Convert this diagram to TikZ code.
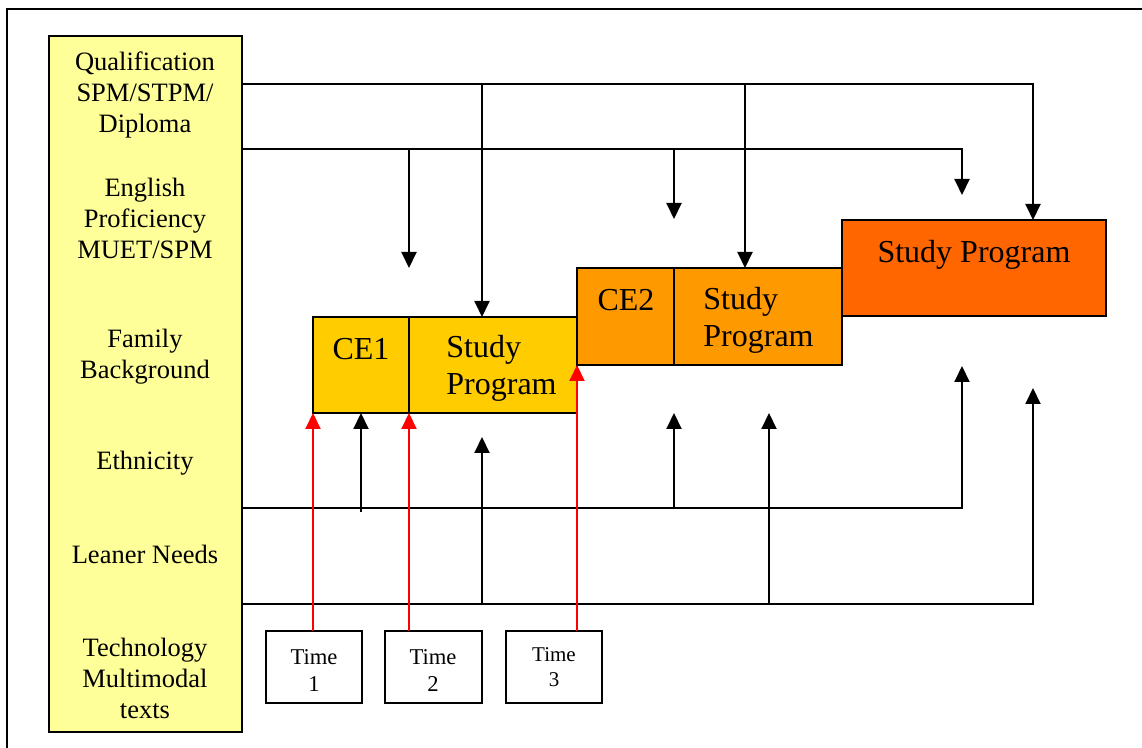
\documentclass[tikz,border=0pt]{standalone}
\usepackage{fontspec}
\setmainfont{Liberation Serif}
\usetikzlibrary{arrows.meta}
\definecolor{factorfill}{HTML}{FFFF99}
\definecolor{ceone}{HTML}{FFCC00}
\definecolor{cetwo}{HTML}{FF9900}
\definecolor{cethree}{HTML}{FF6600}

\begin{document}
\begin{tikzpicture}[x=0.5pt,y=-0.5pt,
  box/.style={draw, line width=1pt, inner sep=0pt, outer sep=0pt, anchor=north west},
  lbl/.style={inner sep=0pt, align=center, font=\fontsize{13.25}{15.5}\selectfont},
  big/.style={inner sep=0pt, align=left, font=\fontsize{16}{18.5}\selectfont},
  timetext/.style={inner sep=0pt, align=center, font=\fontsize{11.3}{13.5}\selectfont},
  link/.style={line width=1pt, -{Triangle[width=7.5pt,length=8pt]}},
  timelink/.style={line width=1pt, red, -{Triangle[width=7.5pt,length=8pt]}},
]
\useasboundingbox (0,0) rectangle (1142,748);

% outer frame (runs off the right and bottom)
\draw[line width=1pt] (7,748) -- (7,9) -- (1142,9);

% column of influencing factors
\node[box, fill=factorfill, minimum width=96.5pt, minimum height=348pt] (factors) at (49,36) {};
\node[lbl] (qual) at (145,95) {Qualification\\SPM/STPM/\\Diploma};
\node[lbl] (eng) at (145,218) {English\\Proficiency\\MUET/SPM};
\node[lbl] (fam) at (145,357) {Family\\Background};
\node[lbl] (eth) at (145,463) {Ethnicity};
\node[lbl] (need) at (145,554) {Leaner Needs};
\node[lbl] (tech) at (145,678) {Technology\\Multimodal\\texts};

% stages
\node[box, fill=ceone, minimum width=48pt, minimum height=48pt] (ce1) at (313,317) {};
\node[box, fill=ceone, minimum width=84pt, minimum height=48pt] (sp1) at (409,317) {};
\node[box, fill=cetwo, minimum width=48.5pt, minimum height=48.5pt] (ce2) at (577,268) {};
\node[box, fill=cetwo, minimum width=84pt, minimum height=48.5pt] (sp2) at (674,268) {};
\node[box, fill=cethree, minimum width=132pt, minimum height=48pt] (sp3) at (842,220) {};

\node[big] (ce1t) at (361,349) {CE1};
\node[big, anchor=west] (sp1t) at (446,368) {Study\\Program};
\node[big] (ce2t) at (626,300) {CE2};
\node[big, anchor=west] (sp2t) at (703,320) {Study\\Program};
\node[big] (sp3t) at (974,255) {Study Program};

% time points
\node[box, minimum width=48pt, minimum height=36pt] (t1) at (266,631) {};
\node[box, minimum width=48.5pt, minimum height=36pt] (t2) at (385,631) {};
\node[box, minimum width=48pt, minimum height=36pt] (t3) at (506,631) {};
\node[timetext] (t1t) at (314,671) {Time\\1};
\node[timetext] (t2t) at (433,671) {Time\\2};
\node[timetext, font=\fontsize{10.5}{12.5}\selectfont] (t3t) at (554,667) {Time\\3};

% junction and end points of the feeder lines
\coordinate (qa) at (242,84);
\coordinate (qb1) at (482,84);
\coordinate (qb2) at (745,84);
\coordinate (qe) at (1033,220);
\coordinate (ea) at (242,149);
\coordinate (eb1) at (409,149);
\coordinate (eb2) at (674,149);
\coordinate (eb1e) at (409,268);
\coordinate (eb2e) at (674,219);
\coordinate (ee) at (962,195);
\coordinate (ha) at (242,508);
\coordinate (hb1) at (361,512);
\coordinate (hb2) at (674,508);
\coordinate (hb2e) at (674,413);
\coordinate (he) at (962,366);
\coordinate (la) at (242,604);
\coordinate (lb1) at (482,604);
\coordinate (lb2) at (769,604);
\coordinate (lb1e) at (482,437);
\coordinate (lb2e) at (769,413);
\coordinate (le) at (1033,388);
\coordinate (r1) at (313,631);
\coordinate (r2) at (409,631);
\coordinate (r3) at (577,631);

% qualification feed
\draw[link] (qa) -| (qe);
\draw[link] (qb1) -- (qb1 |- sp1.north);
\draw[link] (qb2) -- (qb2 |- sp2.north);

% English proficiency feed
\draw[link] (ea) -| (ee);
\draw[link] (eb1) -- (eb1e);
\draw[link] (eb2) -- (eb2e);

% ethnicity feed
\draw[link] (ha) -| (he);
\draw[link] (hb1) -- (hb1 |- ce1.south);
\draw[link] (hb2) -- (hb2e);

% learner needs feed
\draw[link] (la) -| (le);
\draw[link] (lb1) -- (lb1e);
\draw[link] (lb2) -- (lb2e);

% time arrows
\draw[timelink] (r1) -- (r1 |- ce1.south);
\draw[timelink] (r2) -- (r2 |- ce1.south);
\draw[timelink] (r3) -- (r3 |- ce2.south);
\end{tikzpicture}
\end{document}
